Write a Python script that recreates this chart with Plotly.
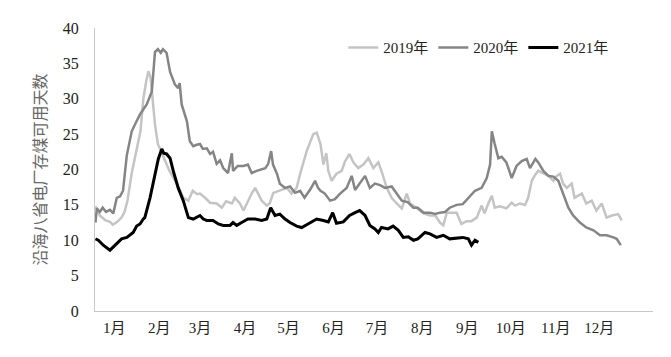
import plotly.graph_objects as go

# day-of-year positions and values
days_2019 = [2, 5, 9, 12, 14, 17, 20, 22, 24, 27, 33, 35, 37, 38.5, 40, 41, 43, 45, 49, 53, 58, 62.5, 66, 69, 72, 74, 77.5, 81, 85.5, 89, 92, 96, 98, 101.5, 104, 107, 109.6, 112, 114, 116.5, 120, 122, 124.5, 129, 134, 137, 140.6, 143, 147.5, 152, 154.4, 157, 159, 161, 162.4, 164.7, 168, 171.6, 174, 177, 179.6, 183, 186.5, 190, 193.4, 196.8, 199, 202.6, 206, 209.5, 213, 216.4, 218.7, 223, 228, 232.4, 236, 239.3, 241.6, 244, 247.4, 250.8, 254, 257.7, 261, 264.6, 268, 270, 272.6, 275, 277, 280.6, 285, 288.7, 291, 294.4, 297.9, 300, 302.5, 305, 307, 310.5, 314, 317.4, 319.7, 322, 324, 326.6, 330, 332, 337, 340, 343.8, 347, 350.7, 354, 357.6, 362, 364.5]
vals_2019 = [14.8, 13.5, 12.8, 12.6, 12.2, 12.6, 13.2, 14.0, 15.5, 19.5, 25.4, 30.0, 32.5, 33.9, 33.0, 31.0, 26.4, 23.6, 21.6, 19.8, 18.0, 16.0, 15.6, 17.0, 16.5, 16.6, 16.0, 15.3, 15.2, 14.6, 15.5, 15.2, 16.0, 15.2, 14.2, 15.6, 16.6, 17.4, 16.6, 15.6, 14.9, 15.2, 16.7, 17.0, 17.4, 16.6, 17.4, 19.4, 22.6, 25.0, 25.2, 23.6, 20.7, 22.3, 19.8, 18.4, 19.4, 19.8, 21.2, 22.2, 21.0, 20.2, 20.7, 21.6, 20.2, 21.0, 19.8, 17.4, 16.0, 15.2, 14.5, 16.6, 15.2, 14.6, 13.8, 13.5, 13.5, 12.5, 12.1, 13.9, 13.9, 13.9, 12.3, 12.7, 12.7, 13.2, 14.9, 13.8, 15.2, 16.3, 14.6, 14.8, 14.5, 15.3, 14.9, 15.2, 15.0, 16.0, 18.4, 19.3, 19.8, 19.5, 19.1, 18.4, 19.1, 19.4, 18.0, 17.4, 18.0, 16.0, 16.6, 15.2, 15.6, 14.2, 15.2, 13.2, 13.5, 13.7, 12.8]

days_2020 = [2, 3, 5, 7, 9.3, 12, 14.3, 16.7, 19, 21, 23.6, 27, 29.3, 32.7, 37.3, 40.8, 42, 43, 45, 47, 48.5, 51, 53.4, 56.8, 59, 60, 61.4, 65, 67, 69.4, 71.8, 74, 76, 78.7, 81, 83, 85.5, 87.8, 90, 93.3, 95.9, 96.8, 100, 104, 107, 109.6, 113, 119, 121, 123, 124.3, 127, 129, 132.6, 136, 139.5, 143, 146, 150, 153.3, 155.3, 157, 160, 163.6, 167, 170.5, 175, 178.5, 180.8, 184, 187.7, 191, 194.5, 198, 201.4, 206, 209.5, 213, 217, 221, 224, 228, 232.4, 236, 239.3, 242.8, 246, 250.8, 255, 258.8, 263.4, 268, 271.5, 273.8, 275, 277, 279.5, 281.8, 285, 288.7, 292, 295.6, 299, 301.3, 305, 307, 310.5, 314, 317.4, 320.8, 324, 327.7, 331, 335.7, 340, 345, 349.5, 354, 358.7, 361, 363.8]
vals_2020 = [12.5, 14.5, 14.0, 14.6, 14.0, 14.3, 13.8, 16.0, 16.2, 17.0, 22.0, 25.4, 26.4, 27.8, 29.2, 31.0, 34.0, 36.6, 37.0, 36.5, 37.0, 36.5, 33.8, 32.0, 31.5, 32.2, 29.2, 26.8, 24.0, 23.3, 23.5, 23.6, 22.9, 23.0, 22.2, 22.5, 20.8, 21.3, 20.2, 19.5, 22.3, 19.8, 20.5, 20.5, 20.7, 19.5, 19.8, 20.2, 20.8, 22.6, 20.7, 19.4, 18.0, 17.4, 17.6, 16.7, 17.0, 16.0, 17.2, 18.4, 17.4, 17.0, 16.6, 15.6, 15.8, 16.6, 17.4, 19.1, 17.1, 18.1, 19.1, 17.4, 18.0, 17.8, 17.4, 17.6, 16.6, 15.6, 15.4, 14.6, 14.6, 13.9, 13.9, 13.7, 13.9, 14.0, 14.6, 15.0, 15.1, 16.0, 17.0, 17.4, 18.8, 20.7, 25.4, 23.6, 21.6, 21.8, 21.0, 18.8, 20.5, 21.2, 21.5, 20.2, 21.5, 21.0, 19.8, 19.1, 19.0, 18.4, 16.6, 14.6, 13.5, 12.5, 11.8, 11.4, 10.7, 10.7, 10.4, 10.2, 9.3]

days_2021 = [2, 4, 7.4, 12, 14, 16.7, 20, 23.6, 25.8, 28, 30.4, 32.7, 35, 36, 39.6, 43, 45.3, 47.7, 49, 51, 53.4, 55.6, 59, 62.5, 66, 69.4, 71.8, 74, 76.3, 78.7, 83, 86.6, 90, 94.7, 96.8, 99.3, 102.7, 107, 112, 116.5, 120, 122.7, 125.7, 129, 132.6, 136, 140.6, 144, 147.5, 152, 154.4, 159, 162.4, 165.4, 168, 172.7, 177, 180.8, 184, 187.7, 191, 194.5, 196.8, 199, 203.5, 207, 210.6, 214, 217.5, 221, 224, 229, 232.4, 237, 241.6, 246, 250.8, 255, 258.8, 261, 263.4, 265.7]
vals_2021 = [10.2, 10.0, 9.3, 8.6, 9.0, 9.5, 10.2, 10.4, 10.7, 11.1, 12.0, 12.3, 13.0, 13.2, 16.0, 19.4, 21.5, 22.9, 22.3, 22.2, 21.6, 19.8, 17.4, 15.6, 13.2, 13.0, 13.3, 13.5, 13.0, 12.8, 12.8, 12.3, 12.1, 12.1, 12.5, 12.1, 12.5, 13.0, 13.0, 12.8, 13.0, 14.6, 13.5, 13.7, 13.0, 12.5, 12.0, 11.8, 12.2, 12.8, 13.0, 12.8, 12.6, 13.9, 12.4, 12.6, 13.5, 13.9, 14.2, 13.5, 12.1, 11.6, 11.1, 11.8, 11.6, 12.0, 11.4, 10.4, 10.5, 10.0, 10.2, 11.1, 10.9, 10.4, 10.7, 10.2, 10.3, 10.4, 10.2, 9.3, 10.0, 9.7]

month_ticks = [15, 46, 74, 105, 135, 166, 196, 227, 258, 288, 319, 349]
month_labels = ["1月", "2月", "3月", "4月", "5月", "6月", "7月", "8月", "9月", "10月", "11月", "12月"]

serif = "Liberation Serif, Noto Sans CJK SC, serif"

fig = go.Figure()
fig.add_trace(go.Scatter(x=days_2019, y=vals_2019, mode="lines", name="2019年",
                         line=dict(color="#c4c4c4", width=2.5)))
fig.add_trace(go.Scatter(x=days_2020, y=vals_2020, mode="lines", name="2020年",
                         line=dict(color="#858585", width=2.5)))
fig.add_trace(go.Scatter(x=days_2021, y=vals_2021, mode="lines", name="2021年",
                         line=dict(color="#000000", width=3)))

fig.update_layout(
    width=671, height=357,
    margin=dict(l=87, r=26, t=18, b=54),
    paper_bgcolor="white", plot_bgcolor="white",
    font=dict(family=serif, size=15, color="#222222"),
    legend=dict(orientation="h", x=0.445, xanchor="left", y=0.93, yanchor="middle",
                font=dict(family=serif, size=15, color="#222222"),
                bgcolor="rgba(0,0,0,0)", itemwidth=30, tracegroupgap=0),
    showlegend=True,
)
fig.update_xaxes(range=[1.7, 386], tickmode="array", tickvals=month_ticks, ticktext=month_labels,
                 showline=True, linecolor="#c8c8c8", linewidth=1, showgrid=False, zeroline=False,
                 ticks="", ticklabelstandoff=3, tickfont=dict(family=serif, size=15, color="#222222"))
fig.update_yaxes(range=[0, 40], dtick=5, showline=True, linecolor="#c8c8c8", linewidth=1,
                 showgrid=False, zeroline=False, ticks="", ticklabelstandoff=12,
                 tickfont=dict(family=serif, size=16, color="#222222"),
                 title=dict(text="沿海八省电厂存煤可用天数", standoff=12,
                            font=dict(family="Noto Sans CJK SC, sans-serif", size=16, color="#666666")))

fig.write_html("out.html")
